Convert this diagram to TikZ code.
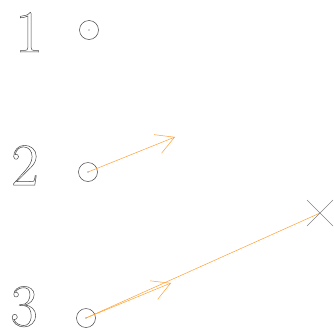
\documentclass[tikz,border=0pt]{standalone}
\usetikzlibrary{arrows.meta,calc}
\definecolor{arr}{RGB}{255,160,50}
\definecolor{circ}{RGB}{70,70,70}
\definecolor{crossc}{RGB}{130,130,130}
\tikzset{
  pt/.style={circle,draw=circ,line width=0.5pt,minimum size=19pt,inner sep=0pt},
  dig/.style={anchor=base,inner sep=0pt,text=circ,font=\fontsize{60}{60}\selectfont},
  vec/.style={draw=arr,line width=0.5pt,-{Straight Barb[length=18pt,width=20pt]}},
  ray/.style={draw=arr,line width=0.5pt},
  crossline/.style={draw=crossc,line width=0.6pt}
}
\newcommand{\outl}[1]{\special{pdf:literal direct 1 Tr 0.5 w}#1\special{pdf:literal direct 0 Tr}}
\begin{document}
\begin{tikzpicture}[x=1pt,y=-1pt]
\useasboundingbox (0,0) rectangle (334,327);
\node[dig] (d1) at (29,52) {\outl{1}};
\node[dig] (d2) at (25,185) {\outl{2}};
\node[dig] (d3) at (24,326) {\outl{3}};
\node[pt] (c1) at (89,30) {};
\node[pt] (c2) at (88,172) {};
\node[pt] (c3) at (86,318) {};
\foreach \c in {c1,c2,c3} \fill[circ] (\c.center) circle (0.6);
\coordinate (t2) at (175,137);
\coordinate (t3) at (171,283);
\coordinate (x) at (320,213);
\draw[vec] (c2.center) -- (t2);
\draw[vec] (c3.center) -- (t3);
\draw[ray] (c3.center) -- (x);
\draw[crossline] ($(x)+(-13,-13)$) -- ($(x)+(13,13)$);
\draw[crossline] ($(x)+(-13,13)$) -- ($(x)+(13,-13)$);
\end{tikzpicture}
\end{document}
